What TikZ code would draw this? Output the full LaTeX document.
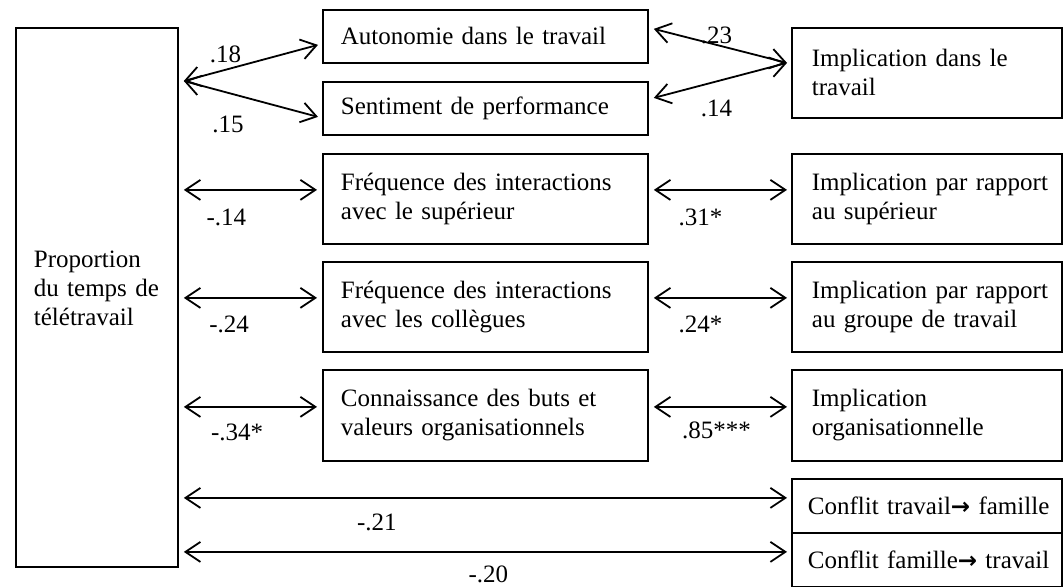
\documentclass[tikz,border=0pt]{standalone}
\usepackage{fontspec}
\setmainfont{Liberation Serif}
\newfontfamily\flechefont{DejaVu Sans}
\usetikzlibrary{arrows.meta,calc}

\newcommand{\fleche}{{\flechefont\bfseries\fontsize{11.5}{11.5}\selectfont →}}

\tikzset{
  cadre/.style={draw, line width=0.9pt, anchor=north west, align=left, inner xsep=9pt, inner ysep=0pt},
  cadred/.style={cadre, inner xsep=10pt, text width=115pt},
  lien/.style={line width=0.9pt, {Straight Barb[length=7.5pt,width=10pt]}-{Straight Barb[length=7.5pt,width=10pt]}},
  coef/.style={anchor=base, inner sep=0pt},
}

\begin{document}
\begin{tikzpicture}[x=0.5pt, y=-0.5pt, font=\fontsize{12.5}{14.5}\selectfont]
    \useasboundingbox (0,0) rectangle (1063,587);

    % boites
    \node[cadre, text width=63pt, text depth=38pt, minimum height=269.5pt] (prop) at (15,27) {Proportion\\du temps de\\télétravail};
    \node[cadre, text width=144.5pt, minimum height=26.5pt] (auto) at (322,9) {Autonomie dans le travail};
    \node[cadre, text width=144.5pt, minimum height=26.5pt] (perf) at (322,81) {Sentiment de performance};
    \node[cadre, text width=144.5pt, minimum height=45pt] (freqsup) at (322,153) {Fréquence des interactions\\avec le supérieur};
    \node[cadre, text width=144.5pt, minimum height=45pt] (freqcol) at (322,261) {Fréquence des interactions\\avec les collègues};
    \node[cadre, text width=144.5pt, minimum height=45.5pt] (conn) at (322,369) {Connaissance des buts et\\valeurs organisationnels};
    \node[cadred, minimum height=45pt] (impltrav) at (791,27) {Implication dans le\\travail};
    \node[cadred, minimum height=45pt] (implsup) at (791,153) {\mbox{Implication par rapport}\\au supérieur};
    \node[cadred, minimum height=45pt] (implgrp) at (791,261) {\mbox{Implication par rapport}\\\mbox{au groupe de travail}};
    \node[cadred, minimum height=45.5pt] (implorg) at (791,369) {Implication\\organisationnelle};
    \node[cadred, inner xsep=8pt, text width=119pt, minimum height=27pt] (conftf) at (791,478) {\mbox{Conflit travail\fleche{} famille}};
    \node[cadred, inner xsep=8pt, text width=119pt, minimum height=27pt] (conffw) at (791,532) {\mbox{Conflit famille\fleche{} travail}};

    % liens du haut
    \draw[lien] ($(prop.east|-perf.north)+(2.5pt,0)$) -- ($(auto.west)+(-2pt,-4.25pt)$) node[coef, pos=.31, yshift=3.7pt] (c18) {.18};
    \draw[lien] ($(prop.east|-perf.north)+(2.5pt,0)$) -- ($(perf.west)+(-2pt,-4.25pt)$) node[coef, pos=.33, yshift=-19.7pt] (c15) {.15};
    \draw[lien] ($(auto.east)+(2.5pt,3.75pt)$) -- ($(impltrav.west)+(-2pt,5pt)$) node[coef, pos=.47, yshift=0.7pt] (c23) {.23};
    \draw[lien] ($(perf.east)+(2.5pt,5.25pt)$) -- ($(impltrav.west)+(-2pt,5pt)$) node[coef, pos=.47, yshift=-17.4pt] (c14) {.14};

    % liens des lignes
    \draw[lien] ($(prop.east|-freqsup.west)+(2.5pt,4.5pt)$) -- ($(freqsup.west)+(-2.5pt,4.5pt)$) node[coef, pos=.32, yshift=-18pt] (cm14) {-.14};
    \draw[lien] ($(prop.east|-freqcol.west)+(2.5pt,4.5pt)$) -- ($(freqcol.west)+(-2.5pt,4.5pt)$) node[coef, pos=.34, yshift=-17.5pt] (cm24) {-.24};
    \draw[lien] ($(prop.east|-conn.west)+(2.5pt,4.25pt)$) -- ($(conn.west)+(-2.5pt,4.25pt)$) node[coef, pos=.40, yshift=-17pt] (cm34) {-.34*};
    \draw[lien] ($(freqsup.east)+(2.5pt,4.5pt)$) -- ($(implsup.west)+(-2pt,4.5pt)$) node[coef, pos=.35, yshift=-18pt] (c31) {.31*};
    \draw[lien] ($(freqcol.east)+(2.5pt,4.5pt)$) -- ($(implgrp.west)+(-2pt,4.5pt)$) node[coef, pos=.35, yshift=-17.5pt] (c24) {.24*};
    \draw[lien] ($(conn.east)+(2.5pt,4.25pt)$) -- ($(implorg.west)+(-2pt,4.25pt)$) node[coef, pos=.47, yshift=-16pt] (c85) {.85***};

    % conflits
    \draw[lien] ($(prop.east|-conftf.west)+(2.5pt,4pt)$) -- ($(conftf.west)+(-2pt,4pt)$) node[coef, pos=.32, yshift=-16.5pt] (cm21) {-.21};
    \draw[lien] ($(prop.east|-conffw.west)+(2.5pt,4pt)$) -- ($(conffw.west)+(-2pt,4pt)$) node[coef, pos=.505, yshift=-15.5pt] (cm20) {-.20};
\end{tikzpicture}
\end{document}
